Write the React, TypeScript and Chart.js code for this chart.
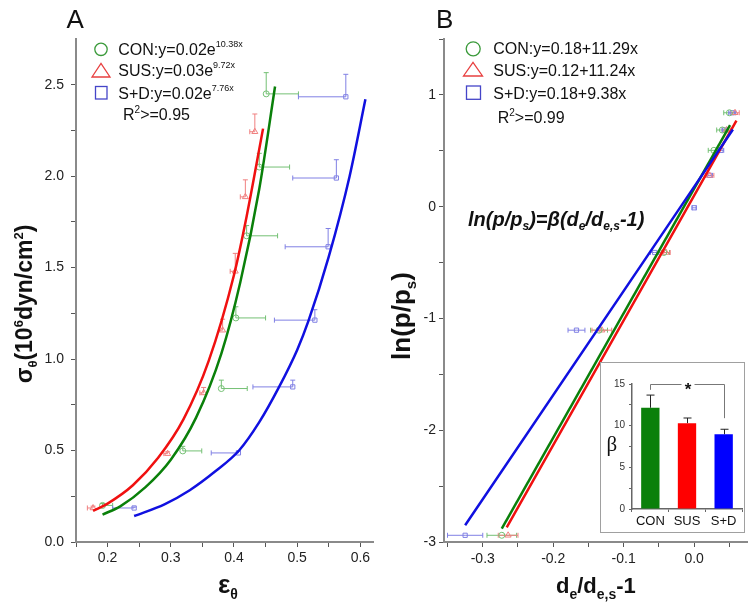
import React, { useEffect, useRef } from "react";
import { Chart, registerables } from "chart.js";

Chart.register(...registerables);

// ---------------- Panel A data ----------------
const conAX = [0.192, 0.319, 0.380, 0.403, 0.420, 0.440, 0.451];
const conAY = [0.20, 0.498, 0.839, 1.225, 1.674, 2.05, 2.45];
const conAXPlus = [0.016, 0.030, 0.041, 0.047, 0.049, 0.048, 0.051];
const conAYPlus = [0.01, 0.025, 0.046, 0.061, 0.056, 0.075, 0.116];

const susAX = [0.177, 0.295, 0.352, 0.382, 0.402, 0.418, 0.433];
const susAY = [0.186, 0.483, 0.815, 1.158, 1.48, 1.887, 2.243];
const susAXMinus = [0.009, 0.006, 0.006, 0.006, 0.008, 0.008, 0.008];
const susAYPlus = [0.01, 0.01, 0.03, 0.06, 0.098, 0.093, 0.097];

const sdAX = [0.242, 0.407, 0.493, 0.528, 0.549, 0.562, 0.577];
const sdAY = [0.186, 0.487, 0.848, 1.213, 1.614, 1.99, 2.434];
const sdAXMinus = [0.034, 0.043, 0.063, 0.064, 0.068, 0.069, 0.075];
const sdAYPlus = [0.005, 0.01, 0.037, 0.057, 0.1, 0.1, 0.123];

// fitted curves
const conCurveX = [0.192, 0.22, 0.26, 0.30, 0.34, 0.38, 0.41, 0.44, 0.465];
const conCurveY = [0.15, 0.195, 0.30, 0.45, 0.68, 1.03, 1.42, 1.93, 2.49];
const susCurveX = [0.177, 0.20, 0.24, 0.28, 0.32, 0.36, 0.40, 0.42, 0.446];
const susCurveY = [0.17, 0.21, 0.31, 0.46, 0.67, 0.99, 1.46, 1.78, 2.26];
const sdCurveX = [0.242, 0.29, 0.33, 0.37, 0.408, 0.44, 0.471, 0.50, 0.518, 0.55, 0.583, 0.608];
const sdCurveY = [0.142, 0.206, 0.283, 0.385, 0.50, 0.655, 0.845, 1.05, 1.21, 1.56, 2.0, 2.42];

const aXTicks = [0.15, 0.2, 0.25, 0.3, 0.35, 0.4, 0.45, 0.5, 0.55, 0.6];
const aYTicks = [0, 0.25, 0.5, 0.75, 1.0, 1.25, 1.5, 1.75, 2.0, 2.25, 2.5];

// ---------------- Panel B data ----------------
const conBX = [-0.273, -0.135, -0.043, 0.028, 0.040, 0.050];
const conBY = [-2.94, -1.105, -0.41, 0.504, 0.686, 0.84];
const conBXErr = [0.021, 0.012, 0.008, 0.008, 0.008, 0.008];

const susBX = [-0.264, -0.131, -0.040, 0.022, 0.046, 0.058];
const susBY = [-2.94, -1.105, -0.41, 0.28, 0.686, 0.84];
const susBXErr = [0.014, 0.014, 0.006, 0.006, 0.006, 0.006];

const sdBX = [-0.325, -0.167, -0.056, 0.0, 0.022, 0.038, 0.0435, 0.054];
const sdBY = [-2.94, -1.105, -0.41, -0.01, 0.28, 0.504, 0.686, 0.84];
const sdBXErr = [0.025, 0.012, 0.006, 0.003, 0.004, 0.004, 0.004, 0.005];

const conLineX = [-0.273, 0.051];
const conLineY = [-2.88, 0.73];
const susLineX = [-0.266, 0.060];
const susLineY = [-2.87, 0.77];
const sdLineX = [-0.325, 0.055];
const sdLineY = [-2.85, 0.69];

const bXTicks = [-0.35, -0.3, -0.25, -0.2, -0.15, -0.1, -0.05, 0, 0.05];
const bYTicks = [-3, -2.5, -2, -1.5, -1, -0.5, 0, 0.5, 1, 1.5];

// ---------------- Inset data ----------------
const insetCats = ["CON", "SUS", "S+D"];
const insetBeta = [12.15, 10.3, 8.97];
const insetErr = [1.52, 0.62, 0.6];
const insetYTicks = [0, 2.5, 5, 7.5, 10, 12.5, 15];

// ---------------- styles ----------------
const FONT = "'Liberation Sans', Arial, Helvetica, sans-serif";
const GREEN = "#0a800a";
const RED = "#f01010";
const BLUE = "#1010e0";
const LGREEN = "#74c074";
const LRED = "#f08080";
const LBLUE = "#8080e4";
const AXIS = "#8a8a8a";

const xy = (xs: number[], ys: number[]) => xs.map((x, i) => ({ x, y: ys[i] }));

const errPlugin = {
  id: "errBars",
  beforeDatasetsDraw(chart: any) {
    const { ctx } = chart;
    const xs = chart.scales.x;
    const ys = chart.scales.y;
    ctx.save();
    const seg = (x1: number, y1: number, x2: number, y2: number) => {
      ctx.beginPath();
      ctx.moveTo(x1, y1);
      ctx.lineTo(x2, y2);
      ctx.stroke();
    };
    chart.data.datasets.forEach((ds: any) => {
      if (!ds.err) return;
      ctx.strokeStyle = ds.borderColor;
      ctx.lineWidth = 1;
      const cap = 2.5;
      const e = ds.err;
      ds.data.forEach((p: any, i: number) => {
        const px = xs.getPixelForValue(p.x);
        const py = ys.getPixelForValue(p.y);
        const xm = e.xm ? e.xm[i] : 0;
        const xp = e.xp ? e.xp[i] : 0;
        const yp = e.yp ? e.yp[i] : 0;
        if (xm > 0) {
          const ex = xs.getPixelForValue(p.x - xm);
          seg(px, py, ex, py);
          seg(ex, py - cap, ex, py + cap);
        }
        if (xp > 0) {
          const ex = xs.getPixelForValue(p.x + xp);
          seg(px, py, ex, py);
          seg(ex, py - cap, ex, py + cap);
        }
        if (yp > 0) {
          const ey = ys.getPixelForValue(p.y + yp);
          seg(px, py, px, ey);
          seg(px - cap, ey, px + cap, ey);
        }
      });
    });
    ctx.restore();
  },
};

const curve = (xs: number[], ys: number[], color: string) => ({
  type: "line",
  data: xy(xs, ys),
  borderColor: color,
  borderWidth: 2.5,
  pointRadius: 0,
  showLine: true,
  fill: false,
  cubicInterpolationMode: "monotone",
  order: 0,
});

const pts = (xs: number[], ys: number[], color: string, style: string, r: number, err: any) => ({
  type: "scatter",
  data: xy(xs, ys),
  borderColor: color,
  backgroundColor: "rgba(255,255,255,0)",
  pointStyle: style,
  pointRadius: r,
  pointBorderWidth: 1,
  showLine: false,
  err,
  order: 5,
});

const near = (v: number, step: number) => Math.abs(v / step - Math.round(v / step)) < 1e-6;

function axisBase(ticksArr: number[], width: number | null, height: number | null, pad: number) {
  return {
    type: "linear",
    border: { display: true, color: AXIS, width: 2 },
    grid: { display: true, drawOnChartArea: false, drawTicks: true, tickLength: 5, color: "#555", lineWidth: 1 },
    afterBuildTicks: (s: any) => {
      s.ticks = ticksArr.map((v) => ({ value: v }));
    },
    afterFit: (s: any) => {
      if (width !== null) s.width = width;
      if (height !== null) s.height = height;
    },
    ticks: { font: { family: FONT, size: 14 }, color: "#222", padding: pad, autoSkip: false, maxRotation: 0 },
  };
}

function cfgA(): any {
  const x: any = axisBase(aXTicks, null, 66, 3);
  x.min = 0.15;
  x.max = 0.62;
  x.ticks.callback = (v: number) => (near(v, 0.1) ? v.toFixed(1) : "");
  const y: any = axisBase(aYTicks, 76, null, 7);
  y.min = 0;
  y.max = 2.75;
  y.ticks.callback = (v: number) => (near(v, 0.5) ? v.toFixed(1) : "");
  return {
    type: "scatter",
    data: {
      datasets: [
        curve(susCurveX, susCurveY, RED),
        curve(conCurveX, conCurveY, GREEN),
        curve(sdCurveX, sdCurveY, BLUE),
        pts(conAX, conAY, LGREEN, "circle", 3, { xp: conAXPlus, yp: conAYPlus }),
        pts(susAX, susAY, LRED, "triangle", 3.5, { xm: susAXMinus, yp: susAYPlus }),
        pts(sdAX, sdAY, LBLUE, "rect", 3, { xm: sdAXMinus, yp: sdAYPlus }),
      ],
    },
    options: {
      animation: false,
      responsive: false,
      layout: { padding: { top: 39, right: 2, left: 0, bottom: 0 } },
      plugins: { legend: { display: false }, tooltip: { enabled: false } },
      scales: { x, y },
    },
    plugins: [errPlugin],
  };
}

function cfgB(): any {
  const x: any = axisBase(bXTicks, null, 66, 4);
  x.min = -0.355;
  x.max = 0.075;
  x.ticks.callback = (v: number) => {
    if (!near(v, 0.1)) return "";
    if (Math.abs(v) < 1e-9) return "0.0";
    return v.toFixed(1);
  };
  const y: any = axisBase(bYTicks, 68, null, 3);
  y.min = -3;
  y.max = 1.5;
  y.ticks.callback = (v: number) => (near(v, 1) ? String(Math.round(v)) : "");
  return {
    type: "scatter",
    data: {
      datasets: [
        curve(sdLineX, sdLineY, BLUE),
        curve(conLineX, conLineY, GREEN),
        curve(susLineX, susLineY, RED),
        pts(conBX, conBY, LGREEN, "circle", 3, { xm: conBXErr, xp: conBXErr }),
        pts(susBX, susBY, LRED, "triangle", 3.5, { xm: susBXErr, xp: susBXErr }),
        pts(sdBX, sdBY, LBLUE, "rect", 3, { xm: sdBXErr, xp: sdBXErr }),
      ],
    },
    options: {
      animation: false,
      responsive: false,
      layout: { padding: { top: 39, right: 5, left: 0, bottom: 0 } },
      plugins: { legend: { display: false }, tooltip: { enabled: false } },
      scales: { x, y },
    },
    plugins: [errPlugin],
  };
}

const insetPlugin = {
  id: "insetDeco",
  afterDatasetsDraw(chart: any) {
    const { ctx } = chart;
    const xs = chart.scales.x;
    const ys = chart.scales.y;
    ctx.save();
    const seg = (x1: number, y1: number, x2: number, y2: number) => {
      ctx.beginPath();
      ctx.moveTo(x1, y1);
      ctx.lineTo(x2, y2);
      ctx.stroke();
    };
    // error bars
    ctx.strokeStyle = "#222";
    ctx.lineWidth = 1;
    insetBeta.forEach((v, i) => {
      const px = Math.round(xs.getPixelForValue(i)) + 0.5;
      const y0 = ys.getPixelForValue(v);
      const y1 = ys.getPixelForValue(v + insetErr[i]);
      seg(px, y0, px, y1);
      seg(px - 4, y1, px + 4, y1);
    });
    // significance bracket
    ctx.strokeStyle = "#777";
    const xa = Math.round(xs.getPixelForValue(0)) + 0.5;
    const xb = Math.round(xs.getPixelForValue(2)) + 0.5;
    const yt = Math.round(ys.getPixelForValue(15)) + 0.5;
    const mid = (xa + xb) / 2;
    seg(xa, ys.getPixelForValue(14.3), xa, yt);
    seg(xa, yt, mid - 6, yt);
    seg(mid + 7, yt, xb, yt);
    seg(xb, yt, xb, ys.getPixelForValue(10.9));
    ctx.fillStyle = "#111";
    ctx.font = `bold 17px ${FONT}`;
    ctx.textAlign = "center";
    ctx.textBaseline = "alphabetic";
    ctx.fillText("*", mid + 0.5, yt + 10.5);
    ctx.restore();
  },
};

function cfgC(): any {
  return {
    type: "bar",
    data: {
      labels: insetCats,
      datasets: [
        {
          data: insetBeta,
          backgroundColor: [GREEN, "#ff0000", "#0000ff"],
          borderWidth: 0,
          barPercentage: 0.5,
          categoryPercentage: 1,
        },
      ],
    },
    options: {
      animation: false,
      responsive: false,
      layout: { padding: { top: 21, right: 2, left: 0, bottom: 0 } },
      plugins: { legend: { display: false }, tooltip: { enabled: false } },
      scales: {
        x: {
          border: { display: true, color: "#666", width: 1.5 },
          grid: { display: true, drawOnChartArea: false, tickLength: 3, color: "#666", offset: true },
          afterFit: (s: any) => {
            s.height = 23;
          },
          ticks: { font: { family: FONT, size: 13 }, color: "#111", padding: 2, maxRotation: 0 },
        },
        y: {
          min: 0,
          max: 15,
          border: { display: true, color: "#666", width: 1.5 },
          grid: { display: true, drawOnChartArea: false, tickLength: 3, color: "#666" },
          afterBuildTicks: (s: any) => {
            s.ticks = insetYTicks.map((v) => ({ value: v }));
          },
          afterFit: (s: any) => {
            s.width = 31;
          },
          ticks: {
            font: { family: FONT, size: 10 },
            color: "#333",
            padding: 4,
            callback: (v: number) => (near(v, 5) ? String(v) : ""),
          },
        },
      },
    },
    plugins: [insetPlugin],
  };
}

const sup = (fs: number, top: number): React.CSSProperties => ({
  fontSize: fs,
  position: "relative",
  top,
  lineHeight: 0,
});

function Txt(props: { left: number; top: number; size: number; children: any; style?: React.CSSProperties }) {
  return (
    <div
      style={{
        position: "absolute",
        left: props.left,
        top: props.top,
        fontSize: props.size,
        lineHeight: `${props.size}px`,
        whiteSpace: "nowrap",
        color: "#111",
        fontFamily: FONT,
        ...(props.style || {}),
      }}
    >
      {props.children}
    </div>
  );
}

function Rot(props: { cx: number; cy: number; size: number; children: any }) {
  return (
    <div
      style={{
        position: "absolute",
        left: props.cx,
        top: props.cy,
        transform: "translate(-50%, -50%) rotate(-90deg)",
        fontSize: props.size,
        lineHeight: `${props.size}px`,
        fontWeight: "bold",
        whiteSpace: "nowrap",
        color: "#111",
        fontFamily: FONT,
      }}
    >
      {props.children}
    </div>
  );
}

export default function App() {
  const aRef = useRef<HTMLCanvasElement>(null);
  const bRef = useRef<HTMLCanvasElement>(null);
  const cRef = useRef<HTMLCanvasElement>(null);

  useEffect(() => {
    const charts = [
      new Chart(aRef.current as any, cfgA()),
      new Chart(bRef.current as any, cfgB()),
      new Chart(cRef.current as any, cfgC()),
    ];
    return () => charts.forEach((c) => c.destroy());
  }, []);

  const legendTop = (baseline: number) => baseline - 15.5;

  return (
    <div
      style={{
        position: "absolute",
        left: 0,
        top: 0,
        width: 752,
        height: 608,
        background: "#fff",
        overflow: "hidden",
        fontFamily: FONT,
      }}
    >
      <canvas ref={aRef} width={378} height={608} style={{ position: "absolute", left: 0, top: 0 }} />
      <canvas ref={bRef} width={376} height={608} style={{ position: "absolute", left: 376, top: 0 }} />

      {/* legend symbols */}
      <svg width={752} height={608} style={{ position: "absolute", left: 0, top: 0, pointerEvents: "none" }}>
        <circle cx={101} cy={49.3} r={6.2} fill="none" stroke="#3a9a3a" strokeWidth={1.3} />
        <polygon points="92,77 101,63.5 110,77" fill="none" stroke="#e84040" strokeWidth={1.3} />
        <rect x={95.5} y={86.5} width={11.5} height={12.5} fill="none" stroke="#4545c8" strokeWidth={1.3} />
        <circle cx={473.2} cy={48.8} r={7} fill="none" stroke="#3a9a3a" strokeWidth={1.3} />
        <polygon points="463.5,76 473,62.5 482.5,76" fill="none" stroke="#e84040" strokeWidth={1.3} />
        <rect x={466.5} y={86} width={14} height={13.3} fill="none" stroke="#4545c8" strokeWidth={1.3} />
      </svg>

      {/* panel letters */}
      <Txt left={66.5} top={5.5} size={26}>A</Txt>
      <Txt left={436} top={5.5} size={26}>B</Txt>

      {/* legend A */}
      <Txt left={118.3} top={legendTop(55)} size={16} style={{ lineHeight: "20px" }}>
        CON:y=0.02e<span style={sup(9, -8)}>10.38x</span>
      </Txt>
      <Txt left={118.3} top={legendTop(76.7)} size={16} style={{ lineHeight: "20px" }}>
        SUS:y=0.03e<span style={sup(9, -8)}>9.72x</span>
      </Txt>
      <Txt left={118.3} top={legendTop(99)} size={16} style={{ lineHeight: "20px" }}>
        S+D:y=0.02e<span style={sup(9, -8)}>7.76x</span>
      </Txt>
      <Txt left={123} top={legendTop(120)} size={16} style={{ lineHeight: "20px" }}>
        R<span style={sup(10, -7)}>2</span>&gt;=0.95
      </Txt>

      {/* legend B */}
      <Txt left={493.3} top={legendTop(54)} size={16} style={{ lineHeight: "20px" }}>
        CON:y=0.18+11.29x
      </Txt>
      <Txt left={493.3} top={legendTop(76)} size={16} style={{ lineHeight: "20px" }}>
        SUS:y=0.12+11.24x
      </Txt>
      <Txt left={493.3} top={legendTop(99)} size={16} style={{ lineHeight: "20px" }}>
        S+D:y=0.18+9.38x
      </Txt>
      <Txt left={497.7} top={legendTop(123.3)} size={16} style={{ lineHeight: "20px" }}>
        R<span style={sup(10, -7)}>2</span>&gt;=0.99
      </Txt>

      {/* equation */}
      <Txt left={468} top={226 - 17} size={20} style={{ fontWeight: "bold", fontStyle: "italic" }}>
        ln(p/p<span style={sup(12, 4)}>s</span>)=β(d<span style={sup(12, 4)}>e</span>/d
        <span style={sup(12, 4)}>e,s</span>-1)
      </Txt>

      {/* axis titles */}
      <Rot cx={23.7} cy={304} size={23}>
        σ<span style={sup(13, 5)}>θ</span>(10<span style={sup(13, -9)}>6</span>dyn/cm
        <span style={sup(13, -9)}>2</span>)
      </Rot>
      <Txt left={218} top={593 - 22} size={26} style={{ fontWeight: "bold" }}>
        ε<span style={sup(14, 6)}>θ</span>
      </Txt>
      <Rot cx={401} cy={316} size={26}>
        ln(p/p<span style={sup(15, 6)}>s</span>)
      </Rot>
      <Txt left={556} top={593.3 - 18.6} size={22} style={{ fontWeight: "bold" }}>
        d<span style={sup(14, 6)}>e</span>/d<span style={sup(14, 6)}>e,s</span>-1
      </Txt>

      {/* inset */}
      <div
        style={{
          position: "absolute",
          left: 600,
          top: 362,
          width: 145,
          height: 171,
          border: "1px solid #a0a0a0",
          boxSizing: "border-box",
          background: "#fff",
        }}
      >
        <canvas ref={cRef} width={143} height={169} style={{ position: "absolute", left: 0, top: 0 }} />
        <div
          style={{
            position: "absolute",
            left: 12.5 - 7,
            top: 84 - 13,
            fontFamily: "'Liberation Serif', 'DejaVu Serif', serif",
            fontSize: 21,
            lineHeight: "21px",
            color: "#111",
          }}
        >
          β
        </div>
      </div>
    </div>
  );
}
